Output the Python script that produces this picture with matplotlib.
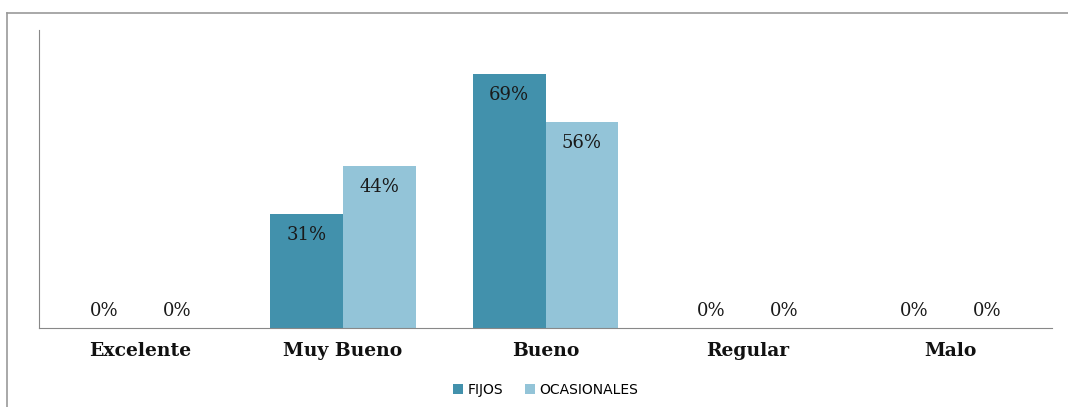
import numpy as np
import matplotlib
matplotlib.use("Agg")
import matplotlib.pyplot as plt
from matplotlib.lines import Line2D

# Datos del gráfico
categorias = ["Excelente", "Muy Bueno", "Bueno", "Regular", "Malo"]
fijos = [0, 31, 69, 0, 0]
ocasionales = [0, 44, 56, 0, 0]
series = ["FIJOS", "OCASIONALES"]

color_fijos = "#4291AC"
color_ocas = "#93C4D8"

fig = plt.figure(figsize=(10.68, 4.07), dpi=100)
ax = fig.add_axes([39 / 1068, 1 - 328 / 407, 1013 / 1068, 298 / 407])

x = np.arange(len(categorias))
ancho = 0.36
b1 = ax.bar(x - ancho / 2, fijos, ancho, color=color_fijos, label=series[0])
b2 = ax.bar(x + ancho / 2, ocasionales, ancho, color=color_ocas, label=series[1])

ax.set_xlim(-0.5, len(categorias) - 0.5)
ax.set_ylim(0, 81)

# Etiquetas de valor
for barras in (b1, b2):
    for rect in barras:
        v = rect.get_height()
        off = -21 if v > 0 else 17
        ax.annotate(f"{v:.0f}%", (rect.get_x() + rect.get_width() / 2, v),
                    xytext=(0, off), textcoords="offset pixels",
                    ha="center", va="center", fontsize=13,
                    family="DejaVu Serif", color="#1a1a1a")

ax.set_xticks(x)
ax.set_xticklabels(categorias, fontsize=13.5, fontweight="bold",
                   family="DejaVu Serif", color="#111111")
ax.tick_params(axis="x", length=0, pad=10)
ax.set_yticks([])
for s in ("top", "right"):
    ax.spines[s].set_visible(False)
ax.spines["left"].set_color("#888888")
ax.spines["bottom"].set_color("#888888")

ax.legend(loc="center", bbox_to_anchor=(0.5, (1 - 390 / 407 - (1 - 328 / 407)) / (298 / 407)),
          ncol=2, frameon=False, fontsize=10, handlelength=0.7, handleheight=0.7,
          columnspacing=1.6, handletextpad=0.3)

# Borde exterior
fig.add_artist(Line2D([7 / 1068, 1.0], [1 - 13 / 407] * 2, color="#999999", lw=1.2,
                      transform=fig.transFigure))
fig.add_artist(Line2D([7 / 1068] * 2, [0, 1 - 13 / 407], color="#999999", lw=1.2,
                      transform=fig.transFigure))

fig.savefig("out.png", dpi=100)
